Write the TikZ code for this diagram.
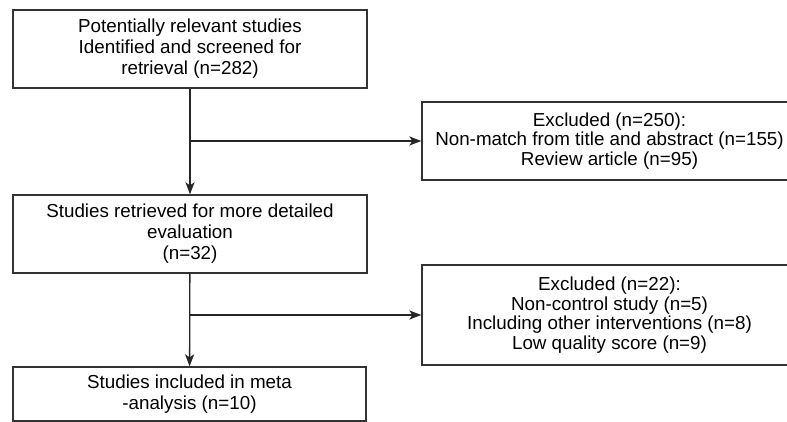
\documentclass[tikz,border=0pt]{standalone}
\usepackage{fontspec}
\setmainfont{Liberation Sans}
\usetikzlibrary{positioning, arrows, arrows.meta}

\tikzset{
  box/.style={draw=black!80, line width=1.3pt, align=center, inner sep=0pt,
    font=\fontsize{18.8}{21}\selectfont},
  exclbox/.style={box, font=\fontsize{18.8}{19.5}\selectfont},
  flow/.style={draw=black!85, line width=1.3pt, -{Stealth[length=12pt, width=9pt, inset=3pt]}}
}

\begin{document}
\begin{tikzpicture}[x=1pt, y=-1pt]
        \useasboundingbox (0,0) rectangle (787,422);
        \clip (0,0) rectangle (787,422);

        \node[box, minimum width=354pt, minimum height=78pt] (screened) at (190,49) {Potentially relevant studies\\Identified and screened for\\retrieval (n=282)};
        \node[box, minimum width=354pt, minimum height=78pt] (retrieved) at (190,234) {Studies retrieved for more detailed\\evaluation\\(n=32)};
        \node[box, minimum width=353pt, minimum height=54pt] (included) at (189.5,394) {Studies included in meta\\-analysis (n=10)};
        \node[exclbox, minimum width=375pt, minimum height=78pt] (excl1) at (609.5,141) {Excluded (n=250):\\Non-match from title and abstract (n=155)\\Review article (n=95)};
        \node[exclbox, minimum width=375pt, minimum height=100pt] (excl2) at (609.5,315) {Excluded (n=22):\\Non-control study (n=5)\\Including other interventions (n=8)\\Low quality score (n=9)};

        \coordinate (split1) at (screened.south |- excl1.west);
        \coordinate (split2) at (retrieved.south |- excl2.west);

        \draw[flow] (screened) -- (retrieved);
        \draw[flow] (retrieved) -- (included);
        \draw[flow] (split1) -- (excl1);
        \draw[flow] (split2) -- (excl2);
\end{tikzpicture}
\end{document}
